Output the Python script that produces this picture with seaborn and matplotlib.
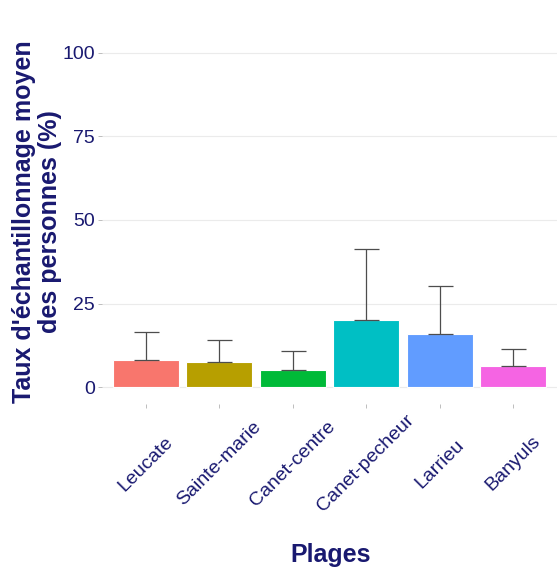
import matplotlib
matplotlib.use("Agg")
import matplotlib.pyplot as plt
import seaborn as sns
import pandas as pd
import numpy as np

plages = ["Leucate", "Sainte-marie", "Canet-centre", "Canet-pecheur", "Larrieu", "Banyuls"]
taux_moyen = [8.1, 7.7, 5.1, 20.0, 15.8, 6.4]
taux_haut = [16.4, 14.2, 10.7, 41.3, 30.4, 11.5]
couleurs = ["#F8766D", "#B79F00", "#00BA38", "#00BFC4", "#619CFF", "#F564E3"]
y_ticks = [0, 25, 50, 75, 100]

txt = "#191970"

sns.set_theme(style="white")
plt.rcParams["font.family"] = ["Liberation Sans", "DejaVu Sans"]

df = pd.DataFrame({"Plage": plages, "Taux": taux_moyen})

fig = plt.figure(figsize=(5.57, 5.70), dpi=100)
ax = fig.add_axes([102 / 557, 1 - 404 / 570, 455 / 557, 368 / 570])

sns.barplot(data=df, x="Plage", y="Taux", hue="Plage", order=plages,
            palette=dict(zip(plages, couleurs)), saturation=1, width=0.9,
            legend=False, edgecolor="white", linewidth=0.8, ax=ax, zorder=2)

moy = np.array(taux_moyen)
haut = np.array(taux_haut)
ax.errorbar(np.arange(len(plages)), moy, yerr=[np.zeros_like(moy), haut - moy],
            fmt="none", ecolor="#4d4d4d", elinewidth=0.9, capsize=9,
            capthick=0.9, zorder=3)

ax.set_ylim(-5, 105)
ax.set_xlim(-0.6, len(plages) - 0.4)
ax.set_yticks(y_ticks)
ax.yaxis.grid(True, color="#ebebeb", linewidth=0.8, zorder=0)
ax.xaxis.grid(False)
ax.set_axisbelow(True)
for s in ax.spines.values():
    s.set_visible(False)

ax.tick_params(axis="both", which="both", length=3, width=0.6, color="#b3b3b3",
               labelcolor=txt, labelsize=14, bottom=True, left=True)
ax.tick_params(axis="y", pad=2)
ax.tick_params(axis="x", pad=40)
for lab in ax.get_xticklabels():
    lab.set_rotation(45)
    lab.set_ha("center")
    lab.set_va("center")

ax.set_xlabel("Plages", fontsize=18, fontweight="bold", color=txt, labelpad=0)
ax.xaxis.set_label_coords((331 - 102) / 455, -(555 - 404) / 368)
ax.xaxis.label.set_va("center")
ax.set_ylabel("Taux d'échantillonnage moyen\ndes personnes (%)", fontsize=18,
              fontweight="bold", color=txt, linespacing=1.15)
ax.yaxis.set_label_coords(-(102 - 37) / 455, (404 - 222) / 368)
ax.yaxis.label.set_va("center")

fig.savefig("out.png", dpi=100, facecolor="white")
